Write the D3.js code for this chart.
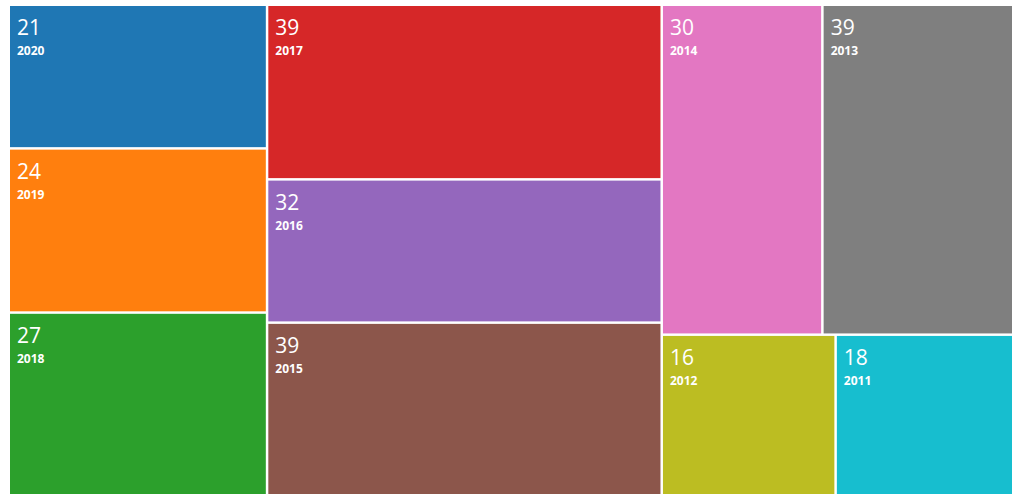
<!DOCTYPE html>
<html>
<head>
<meta charset="utf-8">
<script src="https://cdn.jsdelivr.net/npm/d3@7"></script>
<style>
  body { margin: 0; background: #fff; overflow: hidden; }
  svg { display: block; }
  text { font-family: "Open Sans", sans-serif; fill: #fff; }
</style>
</head>
<body>
<svg id="chart" width="1012" height="494"></svg>
<script>
// years and counts, in the order they are laid out
var years = ["2020", "2019", "2018", "2017", "2016", "2015", "2014", "2013", "2012", "2011"]
var counts = [21, 24, 27, 39, 32, 39, 30, 39, 16, 18]

var width = 1020,
    height = 490

var svg = d3.select("#chart")

var color = d3.scaleOrdinal()
    .domain(years)
    .range(d3.schemeCategory10)

var root = d3.hierarchy({
        children: years.map((y, i) => ({ name: y, value: counts[i] }))
    })
    .sum(d => d.value || 0) // no sort, keep data order

d3.treemap()
    .tile(d3.treemapSquarify)
    .size([width, height])
    .paddingInner(2.5)(root)

var cell = svg.append("g")
    .attr("transform", "translate(10,6)")
    .selectAll("g")
    .data(root.leaves())
    .join("g")
    .attr("transform", d => `translate(${d.x0},${d.y0})`)

cell.append("rect")
    .attr("width", d => d.x1 - d.x0)
    .attr("height", d => d.y1 - d.y0)
    .attr("fill", d => color(d.data.name))

cell.append("text")
    .attr("x", 7)
    .attr("y", 29)
    .style("font-size", "21px")
    .text(d => d.data.value)

cell.append("text")
    .attr("x", 7)
    .attr("y", 49)
    .style("font-size", "12px")
    .style("font-weight", "bold")
    .text(d => d.data.name)
</script>
</body>
</html>
